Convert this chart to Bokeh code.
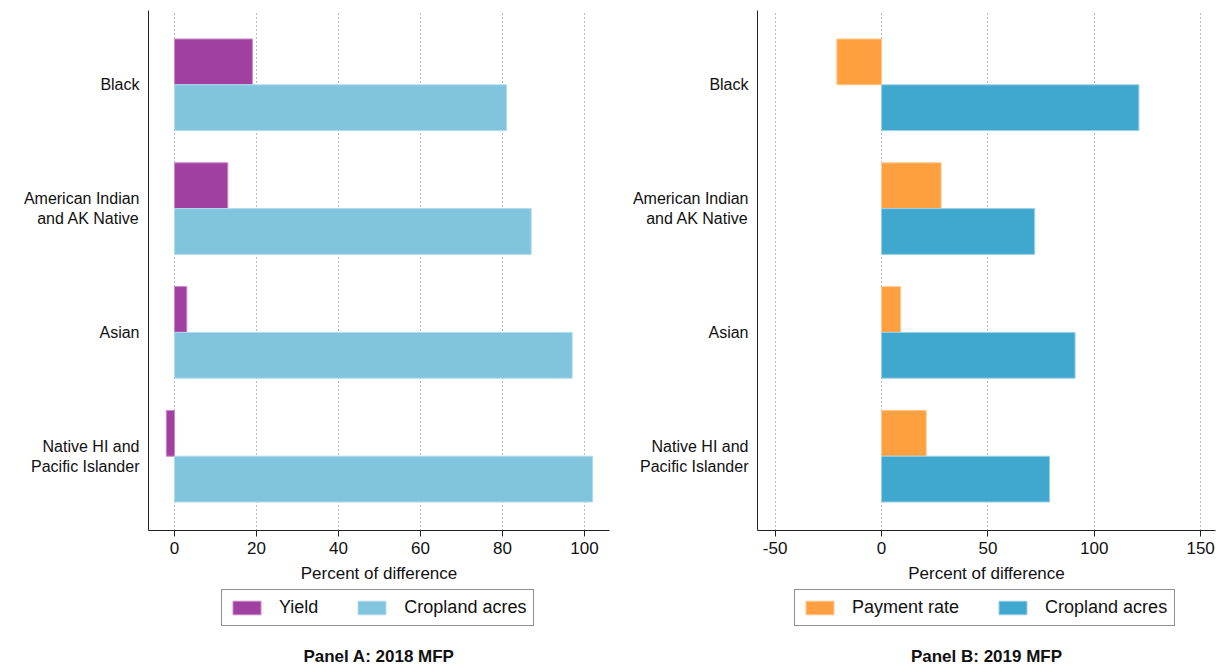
from bokeh.plotting import figure
from bokeh.layouts import row, column
from bokeh.models import FixedTicker, Legend, LegendItem, Label, Range1d, ColumnDataSource
from bokeh.embed import file_html
from bokeh.resources import INLINE

groups = ["Black", "American Indian\nand AK Native", "Asian", "Native HI and\nPacific Islander"]
group_pos = [4, 3, 2, 1]

yield_2018 = [19, 13, 3, -2]
cropland_2018 = [81, 87, 97, 102]
payment_2019 = [-21, 28, 9, 21]
cropland_2019 = [121, 72, 91, 79]

ticks_a = [0, 20, 40, 60, 80, 100]
ticks_b = [-50, 0, 50, 100, 150]

FONT = "Liberation Sans"
OFF = 0.185
BAR_H = 0.37
FRAME_H = 520
LEG_H = 81


def panel(v1, v2, name1, name2, c1, c2, l1, l2, xr, ticks, title, fw, bl, br, leg_x):
    width = bl + fw + br
    p = figure(frame_width=fw, frame_height=FRAME_H, x_range=Range1d(*xr), y_range=Range1d(0.4, 4.6),
               output_backend="svg", toolbar_location=None,
               min_border_left=bl, min_border_right=br, min_border_top=10, min_border_bottom=56)
    p.outline_line_color = None
    p.background_fill_color = "white"
    src = ColumnDataSource(dict(y1=[g + OFF for g in group_pos], y2=[g - OFF for g in group_pos],
                                v1=v1, v2=v2))
    p.hbar(y="y1", left=0, right="v1", height=BAR_H, fill_color=c1, line_color=l1,
           line_width=1, source=src)
    p.hbar(y="y2", left=0, right="v2", height=BAR_H, fill_color=c2, line_color=l2,
           line_width=1, source=src)

    p.xaxis.ticker = FixedTicker(ticks=ticks)
    p.xaxis.major_label_overrides = {t: str(t) for t in ticks}
    p.xaxis.axis_label = "Percent of difference"
    p.xaxis.axis_label_text_font = FONT
    p.xaxis.axis_label_text_font_size = "17px"
    p.xaxis.axis_label_text_font_style = "normal"
    p.xaxis.axis_label_text_color = "#111111"
    p.xaxis.axis_label_standoff = 7
    p.xaxis.major_label_text_font = FONT
    p.xaxis.major_label_text_font_size = "17px"
    p.xaxis.major_label_text_color = "#111111"
    p.xaxis.major_label_standoff = 5
    p.xaxis.major_tick_out = 6
    p.xaxis.major_tick_in = 0
    p.xaxis.minor_tick_out = 0
    p.xaxis.minor_tick_in = 0
    p.xaxis.axis_line_color = "#222222"
    p.xaxis.major_tick_line_color = "#222222"

    p.yaxis.ticker = FixedTicker(ticks=group_pos)
    p.yaxis.major_label_overrides = {g: lab for g, lab in zip(group_pos, groups)}
    p.yaxis.major_label_text_font = FONT
    p.yaxis.major_label_text_font_size = "16px"
    p.yaxis.major_label_text_color = "#111111"
    p.yaxis.major_tick_out = 0
    p.yaxis.major_tick_in = 0
    p.yaxis.minor_tick_out = 0
    p.yaxis.minor_tick_in = 0
    p.yaxis.major_label_standoff = 9
    p.yaxis.axis_line_color = "#222222"

    p.ygrid.grid_line_color = None
    p.xgrid.ticker = FixedTicker(ticks=ticks)
    p.xgrid.grid_line_color = "#777777"
    p.xgrid.grid_line_dash = "1 3"
    p.xgrid.grid_line_width = 1

    # legend + panel title area (axis-less figure; its frame is aligned with the plot frame)
    lf = figure(width=width, height=LEG_H, x_range=Range1d(*xr), y_range=Range1d(100, 101),
                output_backend="svg", toolbar_location=None,
                x_axis_location=None, y_axis_location=None,
                min_border_left=bl, min_border_right=br, min_border_top=0, min_border_bottom=0)
    lf.outline_line_color = None
    lf.xgrid.grid_line_color = None
    lf.ygrid.grid_line_color = None
    # legend key renderers share the data but sit outside this figure's visible y range
    k1 = lf.hbar(y="y1", left=0, right="v1", height=BAR_H, fill_color=c1, line_color=l1,
                 line_width=1, source=src)
    k2 = lf.hbar(y="y2", left=0, right="v2", height=BAR_H, fill_color=c2, line_color=l2,
                 line_width=1, source=src)
    legend = Legend(items=[LegendItem(label=name1, renderers=[k1], index=0),
                           LegendItem(label=name2, renderers=[k2], index=0)],
                    orientation="horizontal", location=(leg_x, LEG_H - 40),
                    glyph_width=35, glyph_height=17, label_height=17, label_standoff=15,
                    spacing=36, padding=7, margin=0,
                    label_text_font=FONT, label_text_font_size="18px",
                    label_text_color="#111111",
                    border_line_color="#222222", border_line_width=1,
                    background_fill_color="white", background_fill_alpha=1)
    lf.add_layout(legend, "center")
    lf.add_layout(Label(x=fw / 2, y=LEG_H - 70, x_units="screen", y_units="screen",
                        text=title, text_align="center", text_baseline="middle",
                        text_font=FONT, text_font_size="17px", text_font_style="bold",
                        text_color="#111111"))
    return column(p, lf, spacing=0)


pa = panel(yield_2018, cropland_2018, "Yield", "Cropland acres",
           "#A040A0", "#80C4DE", "#C78CC7", "#B3DCEB",
           (-6.34, 106.1), ticks_a, "Panel A: 2018 MFP", 461, 148, 1, 73)
pb = panel(payment_2019, cropland_2019, "Payment rate", "Cropland acres",
           "#FFA040", "#40A8CE", "#FFC890", "#9CD0E6",
           (-58.3, 157.0), ticks_b, "Panel B: 2019 MFP", 458, 147, 5, 37)

layout = row(pa, pb, spacing=0)
open("out.html", "w").write(file_html(layout, INLINE))
